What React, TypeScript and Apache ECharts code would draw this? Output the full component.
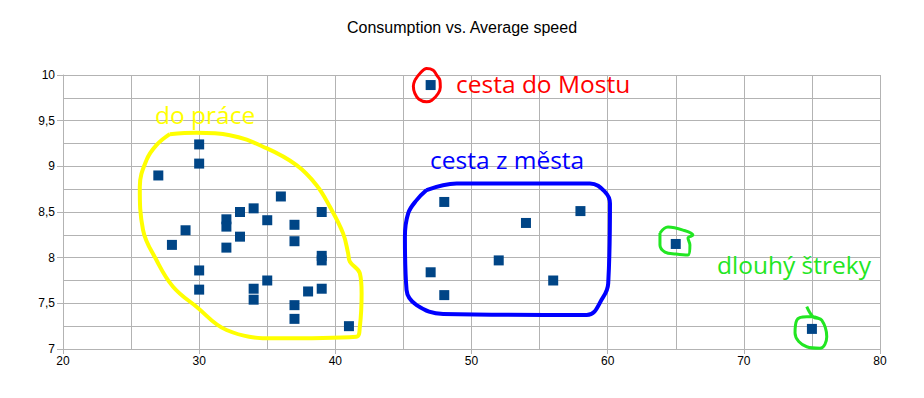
import React, { useEffect, useRef } from "react";
import * as echarts from "echarts";

const speed = [30, 30, 27, 36, 34, 33, 39, 32, 32, 35, 37, 29, 33, 37, 28, 32, 39, 39, 30, 35, 34, 38, 39, 30, 34, 37, 37, 41, 48, 58, 54, 52, 47, 56, 48, 47, 65, 75];
const consumption = [9.24, 9.03, 8.9, 8.67, 8.54, 8.5, 8.5, 8.42, 8.34, 8.41, 8.36, 8.3, 8.23, 8.18, 8.14, 8.11, 8.02, 7.97, 7.86, 7.75, 7.66, 7.63, 7.66, 7.65, 7.54, 7.48, 7.33, 7.25, 8.61, 8.51, 8.38, 7.97, 7.84, 7.75, 7.59, 9.89, 8.15, 7.22];

const titleText = "Consumption vs. Average speed";

// hand-drawn annotation outlines, in data coordinates
const workLoop: number[][] = [
  [27.84, 9.352], [29.8, 9.367], [32.25, 9.341], [34.94, 9.199], [37.15, 9.013], [38.62, 8.794], [39.6, 8.557],
  [40.57, 8.266], [40.94, 8.047], [41.07, 7.955], [41.8, 7.829], [41.93, 7.609], [41.8, 7.244], [41.56, 7.135],
  [35.43, 7.117], [32.01, 7.208], [29.8, 7.463], [28.08, 7.682], [26.86, 7.974], [25.88, 8.302], [25.64, 8.776],
  [26.13, 9.068], [26.86, 9.232], [27.84, 9.352],
];
const cityLoop: number[][] = [
  [46.7, 8.74], [48.91, 8.813], [58.7, 8.813], [59.8, 8.721], [60.17, 8.594], [60.04, 7.719], [59.68, 7.572],
  [58.46, 7.372], [47.92, 7.383], [45.97, 7.481], [45.23, 7.646], [45.11, 8.229], [45.35, 8.485], [45.97, 8.63], [46.7, 8.74],
];
const mostLoop: number[][] = [
  [45.84, 9.943], [46.21, 10.016], [46.7, 10.071], [47.19, 10.053], [47.44, 9.998], [47.68, 9.943], [47.71, 9.866],
  [47.55, 9.798], [47.09, 9.724], [46.7, 9.706], [46.14, 9.735], [45.84, 9.798], [45.73, 9.877], [45.84, 9.943],
];
const longLoop1: number[][] = [
  [63.84, 8.269], [64.43, 8.335], [65.53, 8.302], [66.26, 8.247], [65.9, 8.214], [66.04, 8.138], [65.9, 8.028],
  [65.02, 8.039], [64.21, 8.061], [63.84, 8.138], [63.84, 8.269],
];
const longLoop2: number[][] = [
  [74.62, 7.463], [75.09, 7.353], [75.72, 7.317], [76.09, 7.135], [75.6, 7.008], [74.62, 7.025], [73.76, 7.175],
  [73.89, 7.317], [74.62, 7.353], [75.09, 7.353], [75.72, 7.317],
];

const labels = [
  { text: "do práce", color: "#ffff00", x: 155, y: 102 },
  { text: "cesta do Mostu", color: "#ff0000", x: 456, y: 71 },
  { text: "cesta z města", color: "#0000ff", x: 430, y: 147 },
  { text: "dlouhý štreky", color: "#22e622", x: 717, y: 252 },
];

function loopSeries(data: number[][], color: string, width: number) {
  return {
    type: "line",
    data,
    smooth: 0.4,
    symbol: "none",
    clip: false,
    silent: true,
    z: 1,
    lineStyle: { color, width },
  };
}

export default function App() {
  const ref = useRef<HTMLDivElement>(null);
  useEffect(() => {
    const chart = echarts.init(ref.current!, null, { renderer: "svg" });
    const gridColor = "#b3b3b3";
    const labelFont = { color: "#000", fontFamily: "Liberation Sans", fontSize: 12 };
    chart.setOption({
      animation: false,
      backgroundColor: "#fff",
      title: {
        text: titleText,
        left: "center",
        top: 14,
        textStyle: { fontFamily: "Liberation Sans", fontSize: 16, fontWeight: "normal", color: "#000" },
      },
      grid: { left: 63, right: 44, top: 75, bottom: 49 },
      xAxis: {
        type: "value",
        min: 20,
        max: 80,
        interval: 10,
        axisLine: { show: true, lineStyle: { color: gridColor } },
        axisTick: { show: true, length: 5, lineStyle: { color: gridColor } },
        axisLabel: { ...labelFont, margin: 6 },
        splitLine: { show: true, lineStyle: { color: gridColor, width: 1 } },
        minorTick: { show: false, splitNumber: 2 },
        minorSplitLine: { show: true, lineStyle: { color: gridColor, width: 1 } },
      },
      yAxis: {
        type: "value",
        min: 7,
        max: 10,
        interval: 0.5,
        axisLine: { show: true, lineStyle: { color: gridColor } },
        axisTick: { show: true, length: 6, lineStyle: { color: gridColor } },
        axisLabel: { ...labelFont, margin: 8, formatter: (v: number) => String(v).replace(".", ",") },
        splitLine: { show: true, lineStyle: { color: gridColor, width: 1 } },
        minorTick: { show: false, splitNumber: 2 },
        minorSplitLine: { show: true, lineStyle: { color: gridColor, width: 1 } },
      },
      series: [
        loopSeries(workLoop, "#ffff00", 4),
        loopSeries(cityLoop, "#0000ff", 4),
        loopSeries(mostLoop, "#ff0000", 3),
        loopSeries(longLoop1, "#22e622", 3),
        loopSeries(longLoop2, "#22e622", 3),
        {
          type: "scatter",
          data: speed.map((s, i) => [s, consumption[i]]),
          symbol: "rect",
          symbolSize: 10,
          z: 5,
          itemStyle: { color: "#004586", opacity: 1 },
        },
      ],
      graphic: labels.map((l) => ({
        type: "text",
        x: l.x,
        y: l.y,
        z: 10,
        silent: true,
        style: {
          text: l.text,
          fill: l.color,
          fontFamily: "Open Sans",
          fontSize: 24.5,
          textAlign: "left",
        },
      })),
    });
    return () => chart.dispose();
  }, []);
  return <div ref={ref} style={{ position: "fixed", left: 0, top: 0, width: 924, height: 398 }} />;
}
